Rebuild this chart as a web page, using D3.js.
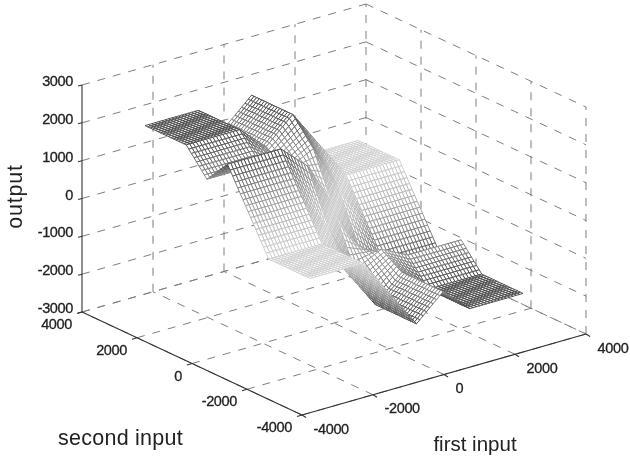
<!DOCTYPE html>
<html><head><meta charset="utf-8">
<script src="https://cdn.jsdelivr.net/npm/d3@7"></script>
<style>html,body{margin:0;background:#fff}svg{display:block;filter:blur(.55px)}text{font-family:"Liberation Sans",Arial,sans-serif;fill:#222}</style>
</head><body><svg id="c" width="630" height="459"></svg>
<script>
// Surface heights at its fold lines (rows: second input, columns: first input).
const firstKnots  = [-3000,-2250,-1500,-750,0,750,1500,2250,3000];
const secondKnots = [3000,2250,1500,750,0,-750,-1500,-2250,-3000];
const outputRow1 = [2000,2000,2000,1350,2000,1000,0,0,0];
const outputRow2 = [2000,2000,2000,1350,2000,1000,0,0,0];
const outputRow3 = [2000,2000,2000,1350,2000,1000,0,0,0];
const outputRow4 = [1350,1350,1350,1000,1350,0,-1000,-1000,-1000];
const outputRow5 = [2000,2000,2000,1350,0,-1350,-2000,-2000,-2000];
const outputRow6 = [1000,1000,1000,0,-1350,-1000,-1350,-1350,-1350];
const outputRow7 = [0,0,0,-1000,-2000,-1350,-2000,-2000,-2000];
const outputRow8 = [0,0,0,-1000,-2000,-1350,-2000,-2000,-2000];
const outputRow9 = [0,0,0,-1000,-2000,-1350,-2000,-2000,-2000];
const outputRows = [outputRow1,outputRow2,outputRow3,outputRow4,outputRow5,outputRow6,outputRow7,outputRow8,outputRow9];
const xTicks = [-4000,-2000,0,2000,4000];
const yTicks = [4000,2000,0,-2000,-4000];
const zTicks = [3000,2000,1000,0,-1000,-2000,-3000];
const xTitle = "first input", yTitle = "second input", zTitle = "output";
// Lines drawn inside each facet of the height table (mesh density only).
const linesPerFacet = 8;

const svg = d3.select("#c");
const fx = d3.scaleLinear([-4000,4000],[0,1]);
const fy = d3.scaleLinear([-4000,4000],[0,1]);
const fz = d3.scaleLinear([-3000,3000],[0,227]);
const front=[302,415], xVec=[284,-81], yVec=[-220,-103];
const P=(x,y,z)=>[front[0]+fx(x)*xVec[0]+fy(y)*yVec[0], front[1]+fx(x)*xVec[1]+fy(y)*yVec[1]-fz(z)];
const depth=(x,y,z)=>-1.04*x-1.34*y+0.735*z;

// grid walls and floor
const grid=svg.append("g").attr("stroke","#7e7e7e").attr("stroke-width",1).attr("stroke-dasharray","8 8").attr("fill","none");
const seg=(g,a,b)=>g.append("path").attr("d",d3.line()([a,b]));
zTicks.forEach(z=>{ seg(grid,P(-4000,4000,z),P(4000,4000,z)); seg(grid,P(4000,4000,z),P(4000,-4000,z)); });
xTicks.forEach(x=>{ seg(grid,P(x,-4000,-3000),P(x,4000,-3000)); if(x>-4000) seg(grid,P(x,4000,-3000),P(x,4000,3000)); });
yTicks.forEach(y=>{ seg(grid,P(-4000,y,-3000),P(4000,y,-3000)); if(y<4000) seg(grid,P(4000,y,-3000),P(4000,y,3000)); });

// solid axes and ticks
const axes=svg.append("g").attr("stroke","#333").attr("stroke-width",1.1).attr("fill","none");
seg(axes,P(-4000,4000,-3000),P(-4000,4000,3000));
seg(axes,P(-4000,4000,-3000),P(-4000,-4000,-3000));
seg(axes,P(-4000,-4000,-3000),P(4000,-4000,-3000));
zTicks.forEach(z=>{const p=P(-4000,4000,z); seg(axes,p,[p[0]-4,p[1]+1]);});
xTicks.forEach(x=>{const p=P(x,-4000,-3000); seg(axes,p,[p[0]+4,p[1]+2.5]);});
yTicks.forEach(y=>{const p=P(-4000,y,-3000); seg(axes,p,[p[0]-5,p[1]+1.5]);});

// surface
const ix=d3.scaleLinear().domain(d3.range(firstKnots.length)).range(firstKnots);
const iy=d3.scaleLinear().domain(d3.range(secondKnots.length)).range(secondKnots);
const facetPoint=(r,c,u,v)=>{
  const t=(1-u)*(1-v)*outputRows[r][c]+u*(1-v)*outputRows[r][c+1]+(1-u)*v*outputRows[r+1][c]+u*v*outputRows[r+1][c+1];
  return [ix(c+u),iy(r+v),t];
};
const quads=[];
const n=linesPerFacet;
for(let r=0;r<secondKnots.length-1;r++)for(let c=0;c<firstKnots.length-1;c++)
 for(let i=0;i<n;i++)for(let j=0;j<n;j++){
  const q=[facetPoint(r,c,i/n,j/n),facetPoint(r,c,(i+1)/n,j/n),facetPoint(r,c,(i+1)/n,(j+1)/n),facetPoint(r,c,i/n,(j+1)/n)];
  const m=[0,1,2].map(k=>d3.mean(q,p=>p[k]));
  quads.push({q,z:m[2],d:depth(...m)});
 }
quads.sort((a,b)=>a.d-b.d);
const shade=d3.scaleLinear([0,700,1400,2000],["#cfcfcf","#b4b4b4","#808080","#444444"]);
svg.append("g").selectAll("polygon").data(quads).join("polygon")
  .attr("points",d=>d.q.map(p=>P(...p).map(v=>v.toFixed(1)).join(",")).join(" "))
  .attr("fill","#fff").attr("stroke",d=>shade(Math.abs(d.z))).attr("stroke-width",.9);

// labels
const tick=(txt,x,y,anchor)=>svg.append("text").attr("x",x).attr("y",y).attr("text-anchor",anchor).attr("dominant-baseline","central")
  .attr("font-size",14.5).attr("letter-spacing",-.35).attr("stroke","#222").attr("stroke-width",.3).text(txt);
zTicks.forEach(z=>{const p=P(-4000,4000,z); tick(z,p[0]-9,p[1]-4,"end");});
xTicks.forEach(x=>{const p=P(x,-4000,-3000); tick(x,p[0]+11.5,p[1]+13.5,"start");});
yTicks.forEach(y=>{const p=P(-4000,y,-3000); tick(y,p[0]-10,p[1]+12,"end");});
svg.append("text").attr("x",120.5).attr("y",438).attr("text-anchor","middle").attr("dominant-baseline","central").attr("font-size",21.5).attr("letter-spacing",.25).text(yTitle);
svg.append("text").attr("x",475).attr("y",443).attr("text-anchor","middle").attr("dominant-baseline","central").attr("font-size",20.5).text(xTitle);
svg.append("text").attr("transform","translate(15,196.5) rotate(-90)").attr("text-anchor","middle").attr("dominant-baseline","central").attr("font-size",21.5).attr("letter-spacing",.8).text(zTitle);
</script></body></html>
